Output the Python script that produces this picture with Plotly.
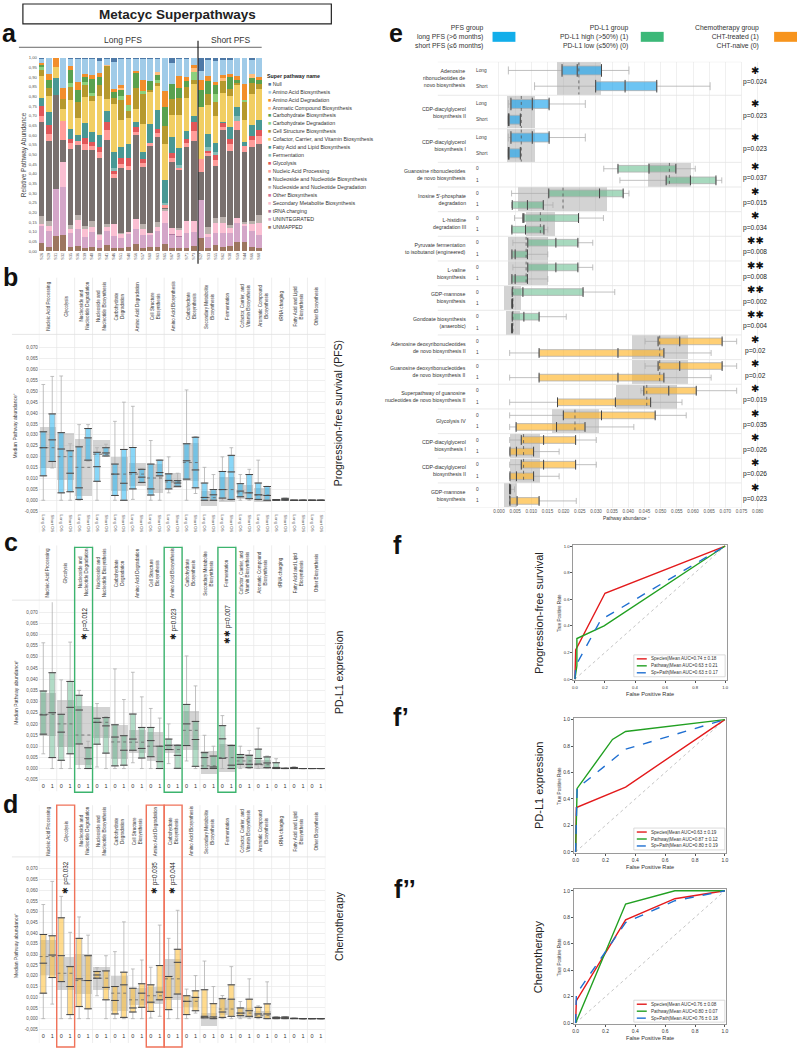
import plotly.graph_objects as go

W, H = 800, 1051
FONT = "Liberation Sans, Arial, sans-serif"


def px(x):
    return x / W


def py(y):
    return 1 - y / H


# ---------------- panel a : relative pathway abundance per sample ----------------
samples = ["S26", "S29", "S31", "S32", "S35", "S36", "S39", "S40", "S30", "S41", "S46",
           "S51", "S48", "S56", "S57", "S60", "S63", "S65", "S67", "S69", "S71", "S73",
           "S27", "S33", "S55", "S62", "S38", "S59", "S44", "S66", "S68"]

unmapped = [.04, .02, .08, .085, .02, .025, .015, .02, .015, .03, .015, .015, .02, .035, .015, .02,
            .02, .035, .015, .015, .015, .025, .07, .015, .03, .02, .025, .045, .045, .02, .015]
unintegrated = [.095, .085, .24, .245, .075, .09, .06, .08, .04, .075, .065, .055, .07, .08, .07, .065,
                .085, .11, .07, .06, .08, .075, .195, .06, .065, .075, .07, .10, .09, .085, .07]
trna = [0] * 18 + [.005, .005] + [0] * 11
sec_met = [.005, .025, 0, .13, .02, .045, .045, .025, .03, .02, .06, .02, .01, .05, .03, .01,
           .02, .06, .03, .035, .06, .055, 0, .015, .05, .05, .03, .025, .01, .035, .06]
other_bio = [0] * 31
nuc_deg = [.04, .025, 0, 0, .02, .025, .01, .03, .005, .015, 0, .005, 0, 0, .025, 0,
           .025, .015, 0, .005, 0, 0, 0, .035, .025, .03, .01, 0, .005, .015, .04]
nuc_bio = [.49, .415, .485, .115, .395, .365, .395, .37, .39, .435, .24, .335, .32, .435, .295, .455,
           .44, .005, .34, .30, .385, .415, .145, .37, .27, .45, .385, .455, .365, .385, .37]
nuc_acid = [.03, .035, 0, .10, .03, .02, .03, .02, .03, .05, .02, .02, .02, .015, .02, .01,
            .02, .015, .02, .015, .02, .05, .065, .01, .03, .015, .035, .05, .03, .035, .04]
glycolysis = [.05, .045, 0, 0, .02, 0, .03, .02, .03, .045, .02, .03, .04, .025, .02, 0,
              .02, 0, .025, 0, .02, .05, 0, .015, .03, .025, .025, 0, 0, .02, .03]
fermentation = [0] * 10 + [.01, 0, 0, 0, 0, 0, 0, .01, 0, .01, 0, 0, 0, .02, .01, 0, 0, .025, 0, 0, 0]
fatty = [.04, .07, .09, 0, .05, .03, .08, .05, .06, .055, .08, .06, .075, .03, .035, .095,
         .10, .12, .085, .09, .04, .03, 0, .065, .05, .005, .06, .045, .02, .055, .055]
cofactor = [.115, .08, .055, .06, .15, .09, .13, .16, .20, .06, .25, .14, .135, .065, .145, .17,
            .125, .185, .115, .17, .17, .165, .27, .15, .14, .15, .16, .12, .115, .165, .16]
cell_struct = [.03, .045, 0, .05, .07, .08, .065, .025, .06, .175, .03, .10, .035, .11, .16, .01,
               .02, .09, .08, .085, .06, .02, 0, .055, .07, .06, .04, .005, .095, .055, .025]
carb_deg = [.015, 0, 0, 0, .02, 0, .015, .02, 0, 0, 0, .02, .03, 0, .015, 0,
            .01, 0, 0, 0, 0, .04, 0, 0, .04, 0, 0, 0, .005, 0, 0]
carb_bio = [.015, .04, 0, 0, .065, .065, .025, .07, .04, 0, .035, .035, 0, .08, 0, .045,
            .03, .10, .08, .055, .03, 0, .09, .07, .05, 0, .06, .015, 0, .025, .02]
aromatic = [0, 0, 0, 0, 0, 0, 0, 0, 0, .005, 0, .01, 0, 0, 0, 0,
            .01, 0, 0, 0, 0, .02, 0, 0, 0, .015, 0, 0, 0, .02, 0]
aa_deg = [.01, .03, .05, .06, .02, .04, .015, .02, .02, 0, .015, .015, .05, .005, .055, 0,
          0, .085, 0, .06, .02, .02, .05, .025, .015, .015, .015, .02, .085, 0, .015]
aa_bio = [.02, .085, 0, .155, .04, .12, .08, .085, .065, .03, .14, .135, .19, .065, .11, .115,
          .07, .17, .11, .09, .095, .035, .045, .085, .11, .08, .075, .095, .135, .075, .10]
null = [.005, 0, 0, 0, .005, .005, .005, .005, .015, .005, .02, .005, .005, .005, .005, .005,
        .005, 0, .025, .005, .005, 0, .07, .01, .015, .01, .01, 0, 0, .01, 0]

# stacking order bottom -> top
a_names = ["UNMAPPED", "UNINTEGRATED", "tRNA charging", "Secondary Metabolite Biosynthesis",
           "Other Biosynthesis", "Nucleoside and Nucleotide Degradation",
           "Nucleoside and Nucleotide Biosynthesis", "Nucleic Acid Processing", "Glycolysis",
           "Fermentation", "Fatty Acid and Lipid Biosynthesis",
           "Cofactor, Carrier, and Vitamin Biosynthesis", "Cell Structure Biosynthesis",
           "Carbohydrate Degradation", "Carbohydrate Biosynthesis",
           "Aromatic Compound Biosynthesis", "Amino Acid Degradation",
           "Amino Acid Biosynthesis", "Null"]
a_colors = ["#9D7660", "#D4A6C8", "#B07AA1", "#FABFD2", "#D37295", "#BAB0AC", "#79706E",
            "#FF9D9A", "#E15759", "#86BCB6", "#499894", "#F1CE63", "#B6992D", "#8CD17D",
            "#59A14F", "#FFBE7D", "#F28E2B", "#A0CBE8", "#4E79A7"]
a_series = [unmapped, unintegrated, trna, sec_met, other_bio, nuc_deg, nuc_bio, nuc_acid,
            glycolysis, fermentation, fatty, cofactor, cell_struct, carb_deg, carb_bio,
            aromatic, aa_deg, aa_bio, null]

# ---------------- panels b, c, d : (lo, q1, median, q3, hi) per superpathway ----------------
bc_cats = ["Nucleic Acid Processing", "Glycolysis", "Nucleoside and<br>Nucleotide Degradation",
           "Nucleoside and<br>Nucleotide Biosynthesis", "Carbohydrate<br>Degradation",
           "Amino Acid Degradation", "Cell Structure<br>Biosynthesis", "Amino Acid Biosynthesis",
           "Carbohydrate<br>Biosynthesis", "Secondary Metabolite<br>Biosynthesis", "Fermentation",
           "Cofactor, Carrier, and<br>Vitamin Biosynthesis", "Aromatic Compound<br>Biosynthesis",
           "tRNA charging", "Fatty Acid and Lipid<br>Biosynthesis", "Other Biosynthesis"]
d_cats = ["Nucleic Acid Processing", "Glycolysis", "Nucleoside and<br>Nucleotide Degradation",
          "Nucleoside and<br>Nucleotide Biosynthesis", "Carbohydrate<br>Degradation",
          "Cell Structure<br>Biosynthesis", "Amino Acid Degradation", "Carbohydrate<br>Biosynthesis",
          "Amino Acid Biosynthesis", "Secondary Metabolite<br>Biosynthesis", "Fermentation",
          "Cofactor, Carrier, and<br>Vitamin Biosynthesis", "Aromatic Compound<br>Biosynthesis",
          "tRNA charging", "Fatty Acid and Lipid<br>Biosynthesis", "Other Biosynthesis"]

b_long = [(0, .0112, .0241, .0314, .0531), (0, .0034, .0235, .0310, .0570),
          (0, .0004, .0057, .0245, .0347), (0, .0087, .0154, .0220, .0241),
          (0, .0022, .0120, .0166, .0362), (.0004, .0052, .0127, .0242, .0431),
          (0, .0024, .0052, .0166, .0274), (.0034, .0052, .0091, .0121, .0199),
          (0, .0097, .0181, .0259, .0506), (0, 0, .0013, .0079, .0151),
          (0, .0010, .0049, .0132, .0199), (0, .0016, .0042, .0076, .0118),
          (0, .0004, .0025, .0079, .0184), (0, 0, .0001, .0003, .0003),
          (0, 0, 0, 0, 0), (0, 0, 0, 0, 0)]
b_short = [(.0148, .0178, .0277, .0396, .0568), (0, .0039, .0124, .0227, .0259),
           (.0179, .0184, .0286, .0329, .0347), (.0203, .0203, .0217, .0241, .0257),
           (0, 0, .0078, .0233, .0450), (.0080, .0082, .0106, .0142, .0144),
           (0, .0112, .0127, .0184, .0184), (.0064, .0064, .0079, .0090, .0124),
           (.0031, .0057, .0139, .0289, .0292), (0, 0, .0025, .0049, .0118),
           (0, .0004, .0130, .0206, .0241), (0, .0007, .0034, .0118, .0142),
           (0, 0, .0022, .0063, .0064), (0, 0, .0004, .0009, .0010),
           (0, 0, 0, 0, 0), (0, 0, 0, 0, 0)]
b_all = [(.0147, .0241, .0337), (.0094, .0200, .0308), (.0019, .0151, .0281), (.0206, .0211, .0277),
         (.0042, .0120, .0199), (.0064, .0120, .0173), (.0034, .0102, .0166), (.0057, .0084, .0124),
         (.0087, .0173, .0262), (-.0025, .0012, .0042), (-.0010, .0049, .0109), (.0004, .0034, .0069),
         (-.0007, .0024, .0055), (0, .0001, .0003), (0, 0, 0), (0, 0, 0)]

c_low = [(.0066, .0154, .0240, .0347, .0563), (0, .0037, .0163, .0243, .0397),
         (0, .0110, .0262, .0328, .0350), (.0007, .0109, .0207, .0225, .0291),
         (0, .0012, .0141, .0196, .0446), (.0026, .0082, .0132, .0244, .0431),
         (0, .0053, .0125, .0184, .0269), (.0022, .0085, .0104, .0132, .0200),
         (.0034, .0103, .0200, .0287, .0504), (0, 0, .0049, .0071, .0149),
         (0, .0046, .0133, .0192, .0237), (0, .0019, .0049, .0063, .0100),
         (0, .0020, .0045, .0087, .0181), (0, 0, .0005, .0026, .0044),
         (0, 0, .0002, .0005, .0008), (0, 0, 0, 0, 0)]
c_high = [(0, .0049, .0250, .0429, .0780), (0, .0066, .0274, .0390, .0566),
          (0, 0, .0044, .0093, .0122), (0, .0069, .0191, .0228, .0232),
          (0, .0015, .0082, .0147, .0309), (0, .0047, .0090, .0184, .0321),
          (0, 0, .0031, .0100, .0226), (0, .0001, .0059, .0104, .0107),
          (0, .0010, .0130, .0211, .0370), (0, 0, .0007, .0056, .0100),
          (0, 0, .0015, .0103, .0106), (0, .0004, .0019, .0059, .0081),
          (0, .0004, .0025, .0052, .0056), (0, 0, 0, .0001, .0002),
          (0, 0, 0, 0, 0), (0, 0, 0, 0, 0)]
c_all = [(.0147, .0243, .0338), (.0096, .0200, .0306), (.0016, .0150, .0279), (.0137, .0207, .0274),
         (.0044, .0119, .0194), (.0068, .0118, .0174), (.0034, .0100, .0163), (.0071, .0085, .0110),
         (.0081, .0171, .0258), (-.0025, .0012, .0078), (-.0015, .0049, .0108), (.0004, .0034, .0066),
         (-.0003, .0017, .0040), (0, .0002, .0005), (0, 0, 0), (0, 0, 0)]

d_naive = [(0, .0119, .0259, .0393, .0533), (0, .0173, .0294, .0471, .0571),
           (0, .0057, .0186, .0375, .0475), (.0107, .0189, .0204, .0220, .0238),
           (0, .0022, .0085, .0150, .0313), (0, .0031, .0050, .0142, .0232),
           (.0003, .0034, .0077, .0158, .0240), (0, .0042, .0099, .0197, .0375),
           (0, .0019, .0081, .0107, .0138), (0, .0004, .0011, .0135, .0269),
           (0, .0006, .0031, .0093, .0108), (0, .0014, .0026, .0050, .0080),
           (0, .0006, .0022, .0053, .0060), (0, 0, .0004, .0007, .0009),
           (0, 0, .0001, .0002, .0003), (0, 0, 0, 0, 0)]
d_treated = [(.0068, .0192, .0297, .0387, .0641), (0, .0019, .0150, .0243, .0403),
             (0, .0046, .0178, .0294, .0390), (0, .0088, .0146, .0223, .0294),
             (0, .0006, .0158, .0217, .0452), (0, .0053, .0119, .0163, .0274),
             (.0011, .0088, .0124, .0248, .0437), (0, .0115, .0263, .0324, .0506),
             (.0026, .0037, .0099, .0130, .0201), (0, 0, .0008, .0070, .0150),
             (0, .0011, .0091, .0158, .0243), (0, .0011, .0037, .0091, .0186),
             (0, 0, .0022, .0069, .0172), (0, 0, .0004, .0008, .0009),
             (0, 0, 0, 0, 0), (0, 0, 0, 0, 0)]
d_all = [(.0204, .0290, .0369), (.0135, .0212, .0287), (.0115, .0178, .0304), (.0133, .0189, .0243),
         (.0037, .0119, .0201), (.0065, .0088, .0142), (.0068, .0107, .0150), (.0088, .0186, .0277),
         (.0053, .0081, .0104), (-.0032, .0004, .0026), (.0019, .0045, .0088), (.0004, .0026, .0050),
         (.0004, .0016, .0034), (0, .0004, .0008), (0, 0, 0), (0, 0, 0)]

c_sig = [(2, 1, "0.012"), (7, 1, "0.023"), (10, 2, "0.007")]
d_sig = [(1, 1, "0.032"), (6, 1, "0.035"), (7, 1, "0.044")]

# ---------------- panel e : single pathways ----------------
e_names = ["Adenosine<br>ribonucleotides de<br>novo biosynthesis", "CDP-diacylglycerol<br>biosynthesis II",
           "CDP-diacylglycerol<br>biosynthesis I", "Guanosine ribonucleotides<br>de novo biosynthesis",
           "Inosine 5'-phosphate<br>degradation", "L-histidine<br>degradation III",
           "Pyruvate fermentation<br>to isobutanol (engineered)", "L-valine<br>biosynthesis",
           "GDP-mannose<br>biosynthesis", "Gondoate biosynthesis<br>(anaerobic)",
           "Adenosine deoxyribonucleotides<br>de novo biosynthesis II",
           "Guanosine deoxyribonucleotides<br>de novo biosynthesis II",
           "Superpathway of guanosine<br>nucleotides de novo biosynthesis II", "Glycolysis IV",
           "CDP-diacylglycerol<br>biosynthesis I", "CDP-diacylglycerol<br>biosynthesis II",
           "GDP-mannose<br>biosynthesis"]
e_group = ["PFS"] * 3 + ["PDL1"] * 7 + ["CHT"] * 7
e_first = [(.0029, .0195, .0242, .0317, .0402), (.0029, .0037, .0103, .0155, .0267),
           (.0029, .0037, .0103, .0155, .0267), (.0324, .0368, .0464, .0547, .0607),
           (.0039, .0154, .0311, .0384, .0402), (.0048, .0074, .0077, .0246, .0323),
           (.0043, .0089, .0176, .0244, .0290), (.0043, .0089, .0176, .0244, .0290),
           (.0039, .0041, .0074, .0260, .0358), (.0040, .0041, .0077, .0124, .0208),
           (.0452, .0492, .0559, .0690, .0735), (.0452, .0492, .0559, .0690, .0735),
           (.0439, .0448, .0525, .0610, .0735), (.0033, .0199, .0317, .0483, .0579),
           (.0033, .0069, .0138, .0237, .0301), (.0033, .0069, .0138, .0237, .0301),
           (.0033, .0033, .0034, .0036, .0048)]
e_second = [(.0110, .0299, .0390, .0488, .0653), (.0028, .0029, .0031, .0066, .0067),
            (.0028, .0029, .0031, .0066, .0067), (.0374, .0517, .0592, .0671, .0689),
            (.0039, .0041, .0088, .0137, .0167), (.0039, .0040, .0082, .0139, .0151),
            (.0040, .0040, .0050, .0088, .0151), (.0040, .0040, .0050, .0088, .0151),
            (.0039, .0040, .0041, .0042, .0043), (.0040, .0040, .0040, .0041, .0041),
            (.0033, .0124, .0368, .0510, .0656), (.0033, .0124, .0368, .0510, .0656),
            (.0033, .0181, .0360, .0469, .0566), (.0033, .0053, .0178, .0266, .0417),
            (.0033, .0034, .0054, .0107, .0186), (.0033, .0034, .0054, .0107, .0186),
            (.0033, .0034, .0056, .0124, .0239)]
e_all = [(.0178, .0247, .0316), (.0024, .0069, .0111), (.0024, .0069, .0111), (.0462, .0527, .0594),
         (.0058, .0198, .0335), (.0084, .0128, .0173), (.0027, .0084, .0153), (.0027, .0084, .0153),
         (.0015, .0043, .0069), (.0021, .0043, .0064), (.0410, .0497, .0586), (.0410, .0497, .0586),
         (.0363, .0457, .0550), (.0163, .0235, .0308), (.0033, .0076, .0126), (.0033, .0076, .0126),
         (.0015, .0033, .0057)]
e_pvals = ["0.024", "0.023", "0.023", "0.037", "0.015", "0.034", "0.008", "0.008", "0.002",
           "0.004", "0.02", "0.02", "0.019", "0.035", "0.026", "0.026", "0.023"]
e_stars = [1] * 6 + [2] * 4 + [1] * 7

# ---------------- panel f : ROC curves ----------------
roc_panels = [
    dict(fpr=[[0, .005, .2, 1], [0, .013, .013, .194, 1], [0, .005, .172, 1]],
         tpr=[[0, .22, .645, 1], [0, .1, .305, .40, 1], [0, .1, .445, 1]],
         auc=["0.74 ± 0.18", "0.63 ± 0.21", "0.63 ± 0.17"]),
    dict(fpr=[[0, .005, .335, 1], [0, .01, .247, .335, 1], [0, .01, .335, 1]],
         tpr=[[0, .335, .49, 1], [0, .48, .85, .91, 1], [0, .48, .776, 1]],
         auc=["0.63 ± 0.19", "0.87 ± 0.12", "0.80 ± 0.19"]),
    dict(fpr=[[0, .005, .335, .665, 1], [0, .335, .665, 1], [0, .005, .335, .665, 1]],
         tpr=[[0, .17, .78, .94, 1], [0, .90, 1, 1], [0, .22, .76, .925, 1]],
         auc=["0.76 ± 0.08", "0.80 ± 0.07", "0.76 ± 0.18"]),
]
roc_models = ["Species", "Pathway", "Sp+Path"]
roc_colors = ["#e31a1c", "#22a022", "#1f6fd1"]
roc_dash = ["solid", "solid", "dash"]
roc_titles = ["Progression-free survival", "PD-L1 expression", "Chemotherapy"]

# ======================================================================
fig = go.Figure()
layout = dict(width=W, height=H, margin=dict(l=0, r=0, t=0, b=0), paper_bgcolor="white",
              plot_bgcolor="white", barmode="stack", bargap=0.22, showlegend=False,
              font=dict(family=FONT, color="#222"))
shapes, annotations = [], []


def ann(text, x, y, size, **kw):
    d = dict(text=text, x=x, y=y, xref=kw.pop("xref", "paper"), yref=kw.pop("yref", "paper"),
             showarrow=False, xanchor=kw.pop("xanchor", "center"), yanchor=kw.pop("yanchor", "middle"),
             font=dict(size=size, family=kw.pop("family", FONT), color=kw.pop("color", "#222")))
    d.update(kw)
    annotations.append(d)


def line(x0, y0, x1, y1, color="#000", width=1, **kw):
    d = dict(type="line", x0=x0, y0=y0, x1=x1, y1=y1, xref=kw.pop("xref", "paper"),
             yref=kw.pop("yref", "paper"), line=dict(color=color, width=width, dash=kw.pop("dash", "solid")))
    d.update(kw)
    shapes.append(d)


def rect(x0, y0, x1, y1, line_color=None, fill=None, width=1, **kw):
    d = dict(type="rect", x0=x0, y0=y0, x1=x1, y1=y1, xref=kw.pop("xref", "paper"),
             yref=kw.pop("yref", "paper"), line=dict(color=line_color or "rgba(0,0,0,0)", width=width),
             fillcolor=fill or "rgba(0,0,0,0)")
    d.update(kw)
    shapes.append(d)


# title box
rect(px(21), py(21), px(331), py(1), line_color="#222", width=1.2)
ann("<b>Metacyc Superpathways</b>", px(176), py(11.5), 13.5)

# panel letters
for letter, x, y in [("a", 8, 30), ("b", 9, 275), ("c", 9, 542), ("d", 9, 805), ("e", 396, 30),
                     ("f", 397, 545), ("f’", 401, 717), ("f’’", 405, 890)]:
    ann("<b>%s</b>" % letter, px(x), py(y), 25, color="#111")

# ---------------- panel a ----------------
for name, color, vals in zip(a_names, a_colors, a_series):
    fig.add_bar(x=samples, y=vals, name=name, marker=dict(color=color, line=dict(width=0)),
                xaxis="x", yaxis="y")
a_ticks = [round(0.05 * k, 2) for k in range(21)]
layout["xaxis"] = dict(domain=[px(36), px(262)], anchor="y", tickmode="array", tickvals=samples,
                       tickangle=-90, tickfont=dict(size=3.8, color="#555"), showgrid=False,
                       ticks="", categoryorder="array", categoryarray=samples)
layout["yaxis"] = dict(domain=[py(249.3), py(55)], anchor="x", range=[0, 1.0], tickvals=a_ticks,
                       ticktext=[("%.2f" % v).replace(".", ",") for v in a_ticks],
                       tickfont=dict(size=4.2, color="#555"), showgrid=False, zeroline=False)
ann("Relative Pathway Abundance", px(22), py(152), 6.5, textangle=-90, color="#444")
ann("Long PFS", px(122), py(37), 8.5, color="#333")
ann("Short PFS", px(230), py(37), 8.5, color="#333")
line(px(17), py(44.5), px(261), py(44.5), color="#444", width=0.8)
line(px(197), py(38), px(197), py(262), color="#222", width=1.2)
ann("<b>Super pathway name</b>", px(264), py(73), 5.3, xanchor="left")
for k, (name, color) in enumerate(zip(a_names[::-1], a_colors[::-1])):
    ann('<span style="color:%s">■</span> %s' % (color, name), px(265), py(81 + 8.0 * k), 5.3,
        xanchor="left", color="#333")

# ---------------- panels b, c, d ----------------
GRAY = "rgba(150,150,150,0.42)"
yt = [round(-0.005 + 0.005 * k, 3) for k in range(16)]


def box_panel(n, cats, g0, g1, allq, fill, ticklabels, top, hdr_bottom, plot_top, plot_bottom,
              yrange, tick_bottom, side_title, side_y, tickangle, tickfont):
    xa, ya = "x%d" % n, "y%d" % n
    idx = list(range(len(cats)))
    fig.add_bar(x=idx, y=[q3 - q1 for q1, _, q3 in allq], base=[q1 for q1, _, _ in allq],
                width=0.92, marker=dict(color=GRAY, line=dict(width=0)), xaxis=xa, yaxis=ya)
    mx, my = [], []
    for i, (_, m, _) in enumerate(allq):
        mx += [i - 0.46, i + 0.46, None]
        my += [m, m, None]
    fig.add_scatter(x=mx, y=my, mode="lines", line=dict(color="#666", width=0.8, dash="dot"),
                    xaxis=xa, yaxis=ya, hoverinfo="skip")
    tickvals, ticktext = [], []
    for off, grp, lab in ((-0.25, g0, ticklabels[0]), (0.25, g1, ticklabels[1])):
        pos = [i + off for i in idx]
        lo, q1, med, q3, hi = [list(v) for v in zip(*grp)]
        fig.add_box(x=pos, lowerfence=lo, q1=q1, median=med, q3=q3, upperfence=hi, orientation="v",
                    width=0.3, whiskerwidth=0.7, fillcolor=fill, boxpoints=False,
                    line=dict(color="#b0b0b0", width=0.8), xaxis=xa, yaxis=ya)
        fig.add_scatter(x=pos * 3, y=q1 + med + q3, mode="markers", xaxis=xa, yaxis=ya,
                        marker=dict(symbol="line-ew-open", size=5.5, color="#444",
                                    line=dict(color="#444", width=1.0)),
                        hoverinfo="skip")
        tickvals += pos
        ticktext += [lab] * len(pos)
    layout["xaxis%d" % n] = dict(domain=[px(37), px(325)], anchor=ya, range=[-0.5, len(cats) - 0.5],
                                 type="linear", tickvals=tickvals, ticktext=ticktext, tickangle=tickangle,
                                 tickfont=tickfont, showgrid=False, zeroline=False, ticks="")
    layout["yaxis%d" % n] = dict(domain=[py(plot_bottom), py(plot_top)], anchor=xa, range=yrange,
                                 tickvals=yt, ticktext=[("%.3f" % v).replace(".", ",") for v in yt],
                                 tickfont=dict(size=4.6, color="#555"), showgrid=True,
                                 gridcolor="#efefef", gridwidth=0.6, zeroline=False)
    for i, c in enumerate(cats):
        ann(c, i, py((top + hdr_bottom) / 2), 4.6, xref=xa, textangle=-90, color="#333")
    for i in range(len(cats) + 1):
        line(i - 0.5, py(top), i - 0.5, py(tick_bottom), color="#e6e6e6", width=0.7, xref=xa)
    line(px(10), py(hdr_bottom), px(325), py(hdr_bottom), color="#e0e0e0", width=0.8)
    ann("Median Pathway abundance⁺", px(14), py((plot_top + plot_bottom) / 2), 5, textangle=-90,
        color="#444")
    ann(side_title, px(338), py(side_y), 10.5, textangle=-90, color="#222")


box_panel(2, bc_cats, b_long, b_short, b_all, "rgba(40,180,240,0.55)", ("Long OS", "Short OS"),
          276, 333, 336, 513, [-0.0061, 0.0747], 532, "Progression-free survival (PFS)", 412, 90,
          dict(size=4.3, color="#555"))
box_panel(3, bc_cats, c_low, c_high, c_all, "rgba(70,170,120,0.42)", ("0", "1"),
          545, 600, 602, 782, [-0.0057, 0.0745], 792, "PD-L1 expression", 672, 0,
          dict(size=5.5, color="#333"))
box_panel(4, d_cats, d_naive, d_treated, d_all, "rgba(255,190,50,0.55)", ("0", "1"),
          806, 858, 860, 1033, [-0.0058, 0.0746], 1045, "Chemotherapy", 927, 0,
          dict(size=5.5, color="#333"))

for col, stars, p in c_sig:
    rect(col - 0.5, py(793), col + 0.5, py(547), line_color="#3cb46e", width=1.4, xref="x3")
    ann('<span style="font-size:8px">%s</span> p=%s' % ("✱" * stars, p), col, py(624), 6.3,
        xref="x3", textangle=-90)
for col, stars, p in d_sig:
    rect(col - 0.5, py(1049), col + 0.5, py(806), line_color="#f0735a", width=1.4, xref="x4")
    ann('<span style="font-size:8px">%s</span> p=%s' % ("✱" * stars, p), col, py(879), 6.3,
        xref="x4", textangle=-90)

# ---------------- panel e ----------------
e_fill = {"PFS": "rgba(20,160,235,0.62)", "PDL1": "rgba(60,170,110,0.45)", "CHT": "rgba(255,178,30,0.62)"}
e_labels = {"PFS": ("Long", "Short"), "PDL1": ("0", "1"), "CHT": ("0", "1")}
e_h = [1.36 if g == "PFS" else 1.0 for g in e_group]
tops, t = [], 0.0
for h in e_h:
    tops.append(t)
    t += h
e_total = t

fig.add_bar(y=[tp + h / 2 for tp, h in zip(tops, e_h)], x=[q3 - q1 for q1, _, q3 in e_all],
            base=[q1 for q1, _, _ in e_all], width=[h * 0.97 for h in e_h], orientation="h",
            marker=dict(color=GRAY, line=dict(width=0)), xaxis="x5", yaxis="y5")
mx, my = [], []
for (_, m, _), tp, h in zip(e_all, tops, e_h):
    mx += [m, m, None]
    my += [tp + 0.02 * h, tp + 0.98 * h, None]
fig.add_scatter(x=mx, y=my, mode="lines", line=dict(color="#555", width=0.8, dash="dot"),
                xaxis="x5", yaxis="y5", hoverinfo="skip")
for g in ("PFS", "PDL1", "CHT"):
    rows = [i for i in range(len(e_group)) if e_group[i] == g]
    for frac, stats in ((0.26, e_first), (0.73, e_second)):
        pos = [tops[i] + frac * e_h[i] for i in rows]
        lo, q1, med, q3, hi = [list(v) for v in zip(*[stats[i] for i in rows])]
        fig.add_box(y=pos, lowerfence=lo, q1=q1, median=med, q3=q3, upperfence=hi, orientation="h",
                    width=0.36 if g == "PFS" else 0.27, whiskerwidth=0.9, fillcolor=e_fill[g],
                    boxpoints=False, line=dict(color="#b0b0b0", width=0.8), xaxis="x5", yaxis="y5")
        fig.add_scatter(x=q1 + med + q3, y=pos * 3, mode="markers", xaxis="x5", yaxis="y5",
                        marker=dict(symbol="line-ns-open", size=9 if g == "PFS" else 7, color="#444",
                                    line=dict(color="#444", width=1.0)), hoverinfo="skip")
        for i, p in zip(rows, pos):
            ann(e_labels[g][0 if frac < 0.5 else 1], px(474), p, 4.8, yref="y5", xanchor="left",
                color="#444")
for i, (name, tp, h) in enumerate(zip(e_names, tops, e_h)):
    ann(name, px(468), tp + h / 2, 5.2, yref="y5", xanchor="right", align="right", color="#333")
    ann("✱" * e_stars[i], px(757), tp + h / 2 - 0.33, 10, yref="y5", color="#111",
        family="DejaVu Sans")
    ann("p=%s" % e_pvals[i], px(757), tp + h / 2 + 0.15, 6.6, yref="y5", color="#222")
for b in tops + [e_total]:
    line(px(438), b, px(743), b, color="#e3e3e3", width=0.8, yref="y5")
e_ticks = [round(0.005 * k, 3) for k in range(17)]
layout["xaxis5"] = dict(domain=[px(492), px(765)], anchor="y5", range=[-0.0023, 0.0817],
                        tickvals=e_ticks, ticktext=["%.3f" % v for v in e_ticks],
                        tickfont=dict(size=4.6, color="#555"), showgrid=True, gridcolor="#f0f0f0",
                        gridwidth=0.7, zeroline=False, ticks="")
layout["yaxis5"] = dict(domain=[py(507), py(59)], anchor="x5", range=[e_total, 0],
                        showticklabels=False, showgrid=False, zeroline=False, ticks="")
ann("Pathway abundance ⁺", px(628), py(518), 4.8, color="#333")

# e legend
for title, lines_, xr, color, x0 in [
        ("PFS group", ["long PFS (>6 months)", "short PFS (≤6 months)"], 486, "#12aeea", 493),
        ("PD-L1 group", ["PD-L1 high (>50%) (1)", "PD-L1 low (≤50%) (0)"], 631, "#3cb878", 642),
        ("Chemotherapy group", ["CHT-treated (1)", "CHT-naive (0)"], 763, "#f7941d", 776)]:
    ann("<br>".join([title] + lines_), px(xr), py(34.5), 6.8, xanchor="right", align="right",
        color="#333")
    rect(px(x0), py(39), px(min(x0 + 23, 800)), py(29), fill=color)

# ---------------- ROC panels ----------------
roc_boxes = [(574.3, 728.3, 544.3, 680.7, 655), (575, 728, 718.7, 854.3, 829), (575, 728, 890.7, 1026.3, 1002)]
for k, (panel, (x0, x1, y0, y1, ly)) in enumerate(zip(roc_panels, roc_boxes)):
    n = 6 + k
    xa, ya = "x%d" % n, "y%d" % n
    fig.add_scatter(x=[0, 1], y=[0, 1], mode="lines", line=dict(color="#9a9a9a", width=0.6, dash="dot"),
                    xaxis=xa, yaxis=ya, hoverinfo="skip")
    for fpr, tpr, color, dash in zip(panel["fpr"], panel["tpr"], roc_colors, roc_dash):
        fig.add_scatter(x=fpr, y=tpr, mode="lines", line=dict(color=color, width=1.4, dash=dash),
                        xaxis=xa, yaxis=ya)
    tsize = 4.2 if k == 0 else 5.0
    common = dict(showline=True, mirror=True, linecolor="#9a9a9a", linewidth=1, showgrid=False,
                  zeroline=False, ticks="outside", ticklen=2, tickwidth=0.6, tickcolor="#555",
                  tickvals=[0, 0.2, 0.4, 0.6, 0.8, 1.0], ticktext=["0.0", "0.2", "0.4", "0.6", "0.8", "1.0"],
                  tickfont=dict(size=tsize, color="#333"), range=[-0.01, 1.01])
    layout["xaxis%d" % n] = dict(domain=[px(x0), px(x1)], anchor=ya, **common)
    layout["yaxis%d" % n] = dict(domain=[py(y1), py(y0)], anchor=xa, **common)
    ann("True Positive Rate", px(x0 - 14), py((y0 + y1) / 2), 4.6, textangle=-90, color="#333")
    ann("False Positive Rate", px((x0 + x1) / 2), py(y1 + 14), 5.6, color="#333")
    ann(roc_titles[k], px(539), py((y0 + y1) / 2), 11, textangle=-90, color="#222")
    rect(px(635), py(ly + 22), px(x1 - 1.5), py(ly), line_color="#cccccc", width=0.7, fill="white")
    for j, (m, color, dash) in enumerate(zip(roc_models, roc_colors, roc_dash)):
        yy = py(ly + 4 + 7 * j)
        line(px(638), yy, px(648), yy, color=color, width=1.4, dash=dash)
        ann("%s|Mean AUC=%s" % (m, panel["auc"][j]), px(650), yy, 4.6, xanchor="left", color="#333")

layout["shapes"] = shapes
layout["annotations"] = annotations
fig.update_layout(**layout)
# the page body keeps no default margin, so the 800x1051 figure fills the window exactly
fig.write_html("out.html", config={"displayModeBar": False},
               post_script="document.body.style.margin='0';")
